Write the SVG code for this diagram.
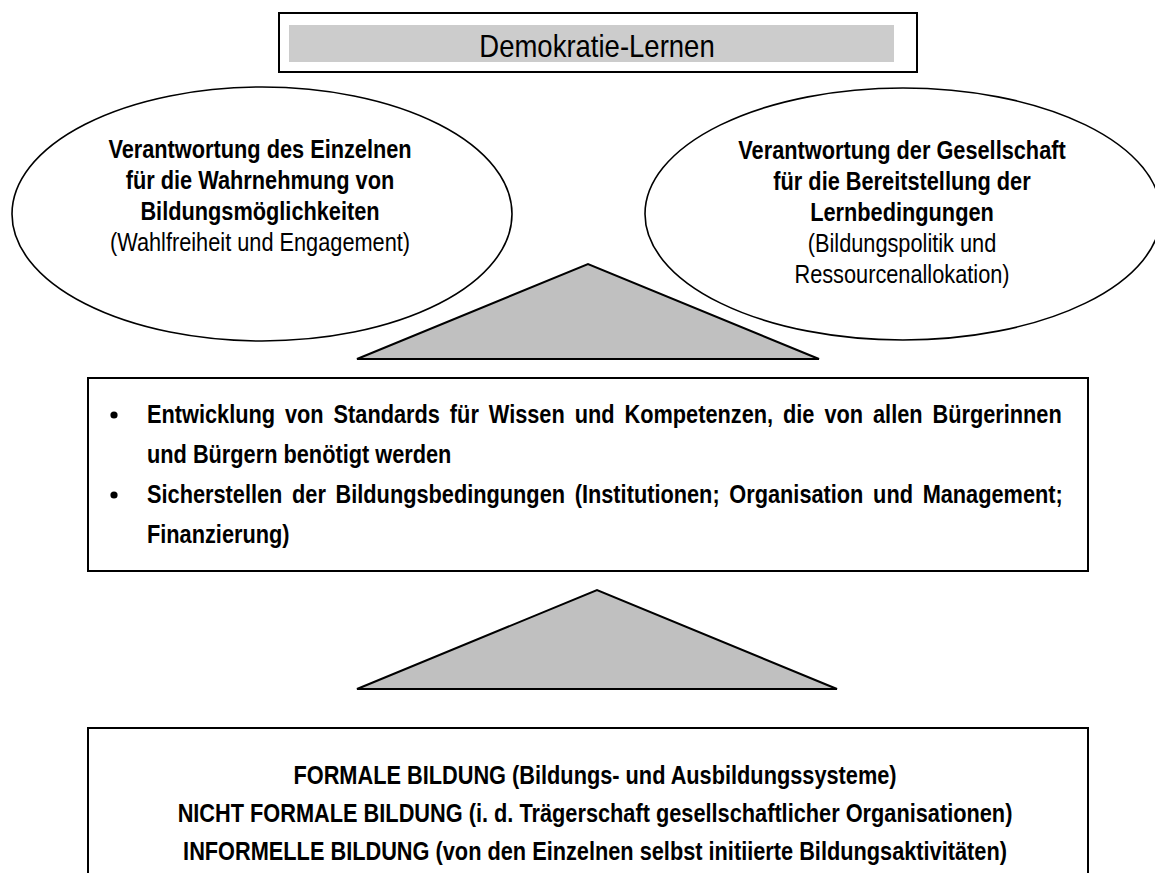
<svg xmlns="http://www.w3.org/2000/svg" width="1155" height="873" viewBox="0 0 1155 873">
<style>
.frame{fill:#fff;stroke:#000;stroke-width:2}
.ell{fill:#fff;stroke:#000;stroke-width:1.6}
.tri{fill:#c0c0c0;stroke:#000;stroke-width:2;stroke-linejoin:miter}
.t{font-family:"Liberation Sans",Arial,sans-serif;font-size:25px;fill:#000}
.b{font-weight:bold}
.c{text-anchor:middle}
</style>
<rect width="1155" height="873" fill="#fff"/>
<g id="title">
<rect class="frame" x="279" y="13" width="638" height="59"/>
<rect x="289" y="25" width="605" height="37" fill="#cccccc"/>
<text class="t c" style="font-size:32px" transform="translate(597,57) scale(0.86,1)">Demokratie-Lernen</text>
</g>
<g id="individual">
<ellipse class="ell" cx="262" cy="214" rx="250" ry="127"/>
<text class="t b c" transform="translate(260,158) scale(0.87,1)">Verantwortung des Einzelnen</text>
<text class="t b c" transform="translate(260,189) scale(0.87,1)">für die Wahrnehmung von</text>
<text class="t b c" transform="translate(260,220) scale(0.87,1)">Bildungsmöglichkeiten</text>
<text class="t c" transform="translate(260,251) scale(0.87,1)">(Wahlfreiheit und Engagement)</text>
</g>
<g id="society">
<ellipse class="ell" cx="903" cy="214" rx="258" ry="126"/>
<text class="t b c" transform="translate(902,159) scale(0.87,1)">Verantwortung der Gesellschaft</text>
<text class="t b c" transform="translate(902,190) scale(0.87,1)">für die Bereitstellung der</text>
<text class="t b c" transform="translate(902,221) scale(0.87,1)">Lernbedingungen</text>
<text class="t c" transform="translate(902,252) scale(0.87,1)">(Bildungspolitik und</text>
<text class="t c" transform="translate(902,283) scale(0.87,1)">Ressourcenallokation)</text>
</g>
<g id="triangle-upper">
<polygon class="tri" points="357,359 588,264 819,359"/>
</g>
<g id="tasks">
<rect class="frame" x="88" y="378" width="1000" height="193"/>
<circle cx="114" cy="415" r="3.6" fill="#000"/>
<circle cx="114" cy="495" r="3.6" fill="#000"/>
<text class="t b" transform="translate(147,423) scale(0.87,1)" word-spacing="4.5">Entwicklung von Standards für Wissen und Kompetenzen, die von allen Bürgerinnen</text>
<text class="t b" transform="translate(147,463) scale(0.87,1)">und Bürgern benötigt werden</text>
<text class="t b" transform="translate(147,503) scale(0.87,1)" word-spacing="4.2">Sicherstellen der Bildungsbedingungen (Institutionen; Organisation und Management;</text>
<text class="t b" transform="translate(147,543) scale(0.87,1)">Finanzierung)</text>
</g>
<g id="triangle-lower">
<polygon class="tri" points="357,689 597,590 837,689"/>
</g>
<g id="education">
<rect class="frame" x="88" y="728" width="1000" height="160"/>
<text class="t b c" transform="translate(595,784) scale(0.87,1)">FORMALE BILDUNG (Bildungs- und Ausbildungssysteme)</text>
<text class="t b c" transform="translate(595,822) scale(0.87,1)">NICHT FORMALE BILDUNG (i. d. Trägerschaft gesellschaftlicher Organisationen)</text>
<text class="t b c" transform="translate(595,860) scale(0.87,1)">INFORMELLE BILDUNG (von den Einzelnen selbst initiierte Bildungsaktivitäten)</text>
</g>
<g id="connectors"></g>
</svg>
